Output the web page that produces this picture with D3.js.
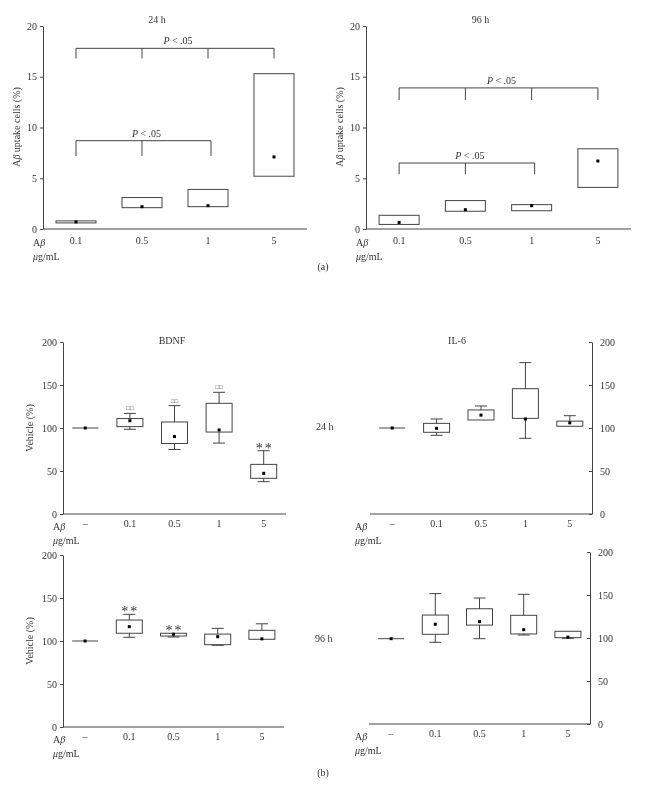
<!DOCTYPE html>
<html>
<head>
<meta charset="utf-8">
<script src="https://cdn.jsdelivr.net/npm/d3@7"></script>
<style>
  body { margin: 0; background: #fff; }
  svg { will-change: transform; }
  svg text { font-family: "Liberation Serif", "Times New Roman", serif; fill: #333; }
</style>
</head>
<body>
<svg id="fig" width="646" height="787"></svg>
<script>
// ---- data (a): uptake, floating bars [low, high] and mean dot
const doseCats = ["0.1", "0.5", "1", "5"]
const uptake24Low = [0.6, 2.1, 2.2, 5.2]
const uptake24High = [0.8, 3.1, 3.9, 15.3]
const uptake24Dot = [0.7, 2.2, 2.3, 7.1]
const uptake96Low = [0.45, 1.75, 1.8, 4.1]
const uptake96High = [1.35, 2.8, 2.4, 7.9]
const uptake96Dot = [0.65, 1.9, 2.3, 6.7]
const uptakeTicks = [0, 5, 10, 15, 20]
// brackets: [from, to, lineValue, dropValue]
const brackets24 = [["0.1", "5", 17.8, 16.8], ["0.1", "1", 8.7, 7.2]]
const brackets96 = [["0.1", "5", 13.9, 12.7], ["0.1", "1", 6.5, 5.4]]

// ---- data (b): box plots [min, q1, q3, max, dot]
const boxCats = ["\u2013", "0.1", "0.5", "1", "5"]
const bdnf24 = [[100, 100, 100, 100, 100], [98.5, 101.6, 111, 117, 108.5], [75, 82, 107, 126, 90], [82.5, 95.3, 128.7, 141.5, 97.7], [37.6, 41.5, 57.7, 73.6, 47.3]]
const il624 = [[100, 100, 100, 100, 100], [91.5, 95, 105.4, 110.5, 99.6], [109.3, 109.3, 121, 125.6, 115], [88, 111.2, 145.7, 176, 110.5], [102, 102, 108, 114.3, 106]]
const bdnf96 = [[100, 100, 100, 100, 100], [104.3, 109, 124.4, 131, 116.7], [104.6, 105.8, 109, 109, 107.8], [95, 95.7, 108, 114.7, 105], [102, 102, 112.4, 120, 102.5]]
const il696 = [[99.2, 99.2, 99.2, 99.2, 99.2], [95, 104.3, 126.7, 151.6, 116], [99.2, 115, 134, 146.5, 119], [103.5, 104.7, 126.4, 150.8, 109.7], [99.6, 100.4, 107.8, 107.8, 101]]
const vehicleTicks = [0, 50, 100, 150, 200]
// significance marks above boxes
const bdnf24Marks = ["", "\u25a1\u25a1", "\u25a1\u25a1", "\u25a1\u25a1", "**"]
const bdnf96Marks = ["", "**", "**", "", ""]

const svg = d3.select("#fig")
const ink = "#444"

function doseLabels(g, x, y0, left) {
    g.append("text").attr("x", left).attr("y", y0 + 5).attr("font-size", 10).html("A<tspan font-style='italic'>\u03b2</tspan>")
    g.append("text").attr("x", left).attr("y", y0 + 19).attr("font-size", 10).html("<tspan font-style='italic'>\u03bc</tspan>g/mL")
}

function uptakePanel(opt) {
    const g = svg.append("g")
    const x = d3.scaleBand().domain(doseCats).range([opt.x0, opt.x1])
    const y = d3.scaleLinear().domain([0, 20]).range([229, 26])
    const cx = d => x(d) + x.bandwidth() / 2

    // y axis
    const ay = g.append("g").attr("transform", `translate(${opt.x0},0)`)
        .call(d3.axisLeft(y).tickValues(uptakeTicks).tickSize(3).tickSizeOuter(0).tickPadding(3))
    ay.selectAll("text").attr("font-size", 10).attr("fill", "#333")
    ay.selectAll("line,path").attr("stroke", ink)
    // x axis line
    g.append("line").attr("x1", opt.x0).attr("x2", opt.x1).attr("y1", 229).attr("y2", 229).attr("stroke", ink)
    g.selectAll(".cat").data(doseCats).enter().append("text")
        .attr("x", cx).attr("y", 244).attr("text-anchor", "middle").attr("font-size", 10).text(d => d)
    doseLabels(g, x, 241, opt.x0 - 10)

    g.append("text").attr("x", opt.x0 + (opt.x1 - opt.x0) / 2 - 18).attr("y", 23)
        .attr("text-anchor", "middle").attr("font-size", 10).text(opt.title)
    g.append("text").attr("transform", `translate(${opt.x0 - 23},127) rotate(-90)`)
        .attr("text-anchor", "middle").attr("font-size", 10)
        .html("A<tspan font-style='italic'>\u03b2</tspan> uptake cells (%)")

    // floating bars
    doseCats.forEach((c, i) => {
        g.append("rect").attr("x", cx(c) - 20).attr("width", 40)
            .attr("y", y(opt.high[i])).attr("height", y(opt.low[i]) - y(opt.high[i]))
            .attr("fill", "none").attr("stroke", ink)
        g.append("rect").attr("x", cx(c) - 1.5).attr("y", y(opt.dot[i]) - 1.5)
            .attr("width", 3).attr("height", 3).attr("fill", "#000")
    })

    // brackets
    opt.brackets.forEach(b => {
        const xa = cx(b[0]), xb = cx(b[1]) + (b[1] === "1" ? 3 : 0)
        const yl = y(b[2]), yd = y(b[3])
        g.append("path").attr("d", `M${xa},${yd}V${yl}H${xb}V${yd}`).attr("fill", "none").attr("stroke", ink)
        doseCats.slice(doseCats.indexOf(b[0]) + 1, doseCats.indexOf(b[1])).forEach(m => {
            g.append("line").attr("x1", cx(m)).attr("x2", cx(m)).attr("y1", yl).attr("y2", yd).attr("stroke", ink)
        })
        g.append("text").attr("x", (xa + xb) / 2 + 3).attr("y", yl - 4).attr("text-anchor", "middle")
            .attr("font-size", 10).html("<tspan font-style='italic'>P</tspan> &lt; .05")
    })
}

function boxPanel(opt) {
    const g = svg.append("g")
    const x = d3.scaleBand().domain(boxCats).range([opt.x0, opt.x1])
    const y = d3.scaleLinear().domain([0, 200]).range([opt.y0, opt.y0 - 172])
    const cx = d => x(d) + x.bandwidth() / 2
    const axisX = opt.right ? opt.x1 : opt.x0

    const axis = opt.right ? d3.axisRight(y) : d3.axisLeft(y)
    const ay = g.append("g").attr("transform", `translate(${axisX},0)`)
        .call(axis.tickValues(vehicleTicks).tickSize(3).tickSizeOuter(0).tickPadding(opt.right ? 5 : 3))
    ay.selectAll("text").attr("font-size", 10).attr("fill", "#333")
    ay.selectAll("line,path").attr("stroke", ink)
    if (opt.right) ay.selectAll(".tick line").attr("x2", -3)

    g.append("line").attr("x1", opt.x0).attr("x2", opt.x1).attr("y1", opt.y0).attr("y2", opt.y0).attr("stroke", ink)
    g.selectAll(".cat").data(boxCats).enter().append("text")
        .attr("x", cx).attr("y", opt.y0 + 13).attr("text-anchor", "middle").attr("font-size", 10).text(d => d)
    doseLabels(g, x, opt.y0 + 11, opt.labelX)

    if (opt.title) g.append("text").attr("x", opt.titleX).attr("y", opt.y0 - 170)
        .attr("text-anchor", "middle").attr("font-size", 10).text(opt.title)
    if (opt.ylabel) g.append("text").attr("transform", `translate(${opt.x0 - 30},${y(100)}) rotate(-90)`)
        .attr("text-anchor", "middle").attr("font-size", 10).text(opt.ylabel)

    boxCats.forEach((c, i) => {
        const [mn, q1, q3, mx, dot] = opt.data[i]
        const xc = cx(c)
        g.append("line").attr("x1", xc).attr("x2", xc).attr("y1", y(mx)).attr("y2", y(q3)).attr("stroke", ink)
        g.append("line").attr("x1", xc).attr("x2", xc).attr("y1", y(q1)).attr("y2", y(mn)).attr("stroke", ink)
        if (mx > q3) g.append("line").attr("x1", xc - 6).attr("x2", xc + 6).attr("y1", y(mx)).attr("y2", y(mx)).attr("stroke", ink)
        if (mn < q1) g.append("line").attr("x1", xc - 6).attr("x2", xc + 6).attr("y1", y(mn)).attr("y2", y(mn)).attr("stroke", ink)
        if (q3 > q1) {
            g.append("rect").attr("x", xc - 13).attr("width", 26).attr("y", y(q3)).attr("height", y(q1) - y(q3))
                .attr("fill", "none").attr("stroke", ink)
        } else {
            g.append("line").attr("x1", xc - 13).attr("x2", xc + 13).attr("y1", y(q1)).attr("y2", y(q1)).attr("stroke", ink)
        }
        g.append("rect").attr("x", xc - 1.5).attr("y", y(dot) - 1.5).attr("width", 3).attr("height", 3).attr("fill", "#000")
        if (opt.marks && opt.marks[i]) {
            const star = opt.marks[i] === "**"
            g.append("text").attr("x", xc + (star ? 1 : 0)).attr("y", y(Math.max(mx, q3)) + (star ? 2 : -3))
                .attr("text-anchor", "middle").attr("font-size", star ? 14 : 6)
                .attr("letter-spacing", star ? 2 : 0).attr("fill", "#555").text(opt.marks[i])
        }
    })
}

uptakePanel({ x0: 43, x1: 307, title: "24 h", low: uptake24Low, high: uptake24High, dot: uptake24Dot, brackets: brackets24 })
uptakePanel({ x0: 366, x1: 631, title: "96 h", low: uptake96Low, high: uptake96High, dot: uptake96Dot, brackets: brackets96 })
svg.append("text").attr("x", 323).attr("y", 270).attr("text-anchor", "middle").attr("font-size", 10).text("(a)")

boxPanel({ x0: 63, x1: 286, y0: 514, data: bdnf24, title: "BDNF", titleX: 172, ylabel: "Vehicle (%)", labelX: 53, marks: bdnf24Marks })
boxPanel({ x0: 370, x1: 592, y0: 514, data: il624, title: "IL-6", titleX: 457, right: true, labelX: 355 })
boxPanel({ x0: 63, x1: 284, y0: 727, data: bdnf96, ylabel: "Vehicle (%)", labelX: 53, marks: bdnf96Marks })
boxPanel({ x0: 369, x1: 590, y0: 724, data: il696, right: true, labelX: 355 })

svg.append("text").attr("x", 316).attr("y", 430).attr("font-size", 10).text("24 h")
svg.append("text").attr("x", 315).attr("y", 642).attr("font-size", 10).text("96 h")
svg.append("text").attr("x", 323).attr("y", 776).attr("text-anchor", "middle").attr("font-size", 10).text("(b)")
</script>
</body>
</html>
